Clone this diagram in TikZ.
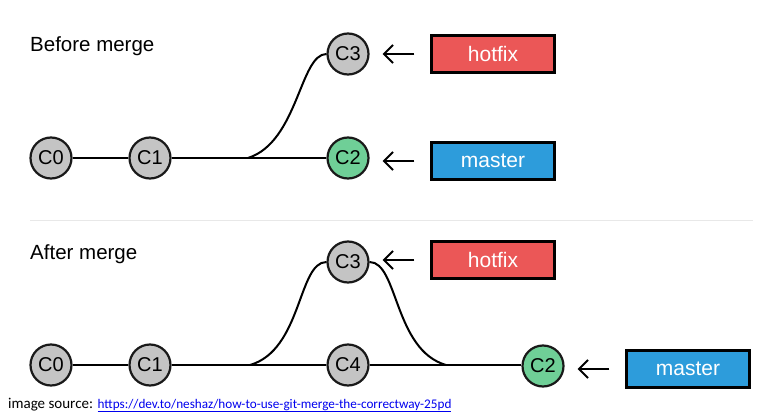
\documentclass[tikz,border=0pt]{standalone}
\usepackage{fontspec}
\setmainfont{Liberation Sans}
\newfontfamily\srcfont{Carlito}
\usetikzlibrary{arrows.meta}
\definecolor{commitgray}{HTML}{C4C4C4}
\definecolor{commitgreen}{HTML}{6FCF97}
\definecolor{hotfixred}{HTML}{EB5757}
\definecolor{masterblue}{HTML}{2D9CDB}
\definecolor{linkblue}{HTML}{0000EE}
\definecolor{rulegray}{HTML}{E8E8E8}

\begin{document}
\begin{tikzpicture}[x=1pt,y=-1pt,
  commit/.style={circle, draw=black!90, line width=2.2pt, fill=commitgray, minimum size=41pt, inner sep=0pt, font=\fontsize{20}{20}\selectfont},
  head/.style={commit, fill=commitgreen},
  branch/.style={draw=black, line width=2.4pt, minimum width=123pt, minimum height=37pt, inner sep=0pt, text=white, font=\fontsize{21}{21}\selectfont},
  title/.style={anchor=base west, inner sep=0pt, font=\fontsize{20.5}{20.5}\selectfont},
  edge/.style={line width=2pt},
  ptr/.style={line width=2pt, -{Straight Barb[length=9pt,width=18pt]}, shorten >=13pt, shorten <=16pt}]
\useasboundingbox (0,0) rectangle (784,420);
% before merge
\node[title] (before) at (30,52) {Before merge};
\node[commit] (c0) at (51,158) {C0};
\node[commit] (c1) at (150,158) {C1};
\node[head] (c2) at (348,158) {C2};
\node[commit] (c3) at (348,54) {C3};
\node[branch, fill=hotfixred] (hotfix) at (493,54) {hotfix};
\node[branch, fill=masterblue] (master) at (493,161) {master};
\coordinate (fork) at (248,158);
\draw[edge] (c0) -- (c1);
\draw[edge] (c1) -- (c2);
\draw[edge] (fork) .. controls (298,142) and (300,54) .. (c3.west);
\draw[ptr] (hotfix.west) -- (hotfix.west -| c3.east);
\draw[ptr] (master.west) -- (master.west -| c2.east);
% separator
\draw[rulegray, line width=1pt] (30,220) -- (753,220);
% after merge
\node[title] (after) at (30,259) {After merge};
\node[commit] (c0b) at (51,365) {C0};
\node[commit] (c1b) at (150,365) {C1};
\node[commit] (c3b) at (348,262) {C3};
\node[commit] (c4b) at (348,365) {C4};
\node[head] (c2b) at (543,366) {C2};
\node[branch, fill=hotfixred] (hotfixb) at (493,260) {hotfix};
\node[branch, fill=masterblue] (masterb) at (688,369) {master};
\coordinate (forkb) at (250,365);
\coordinate (joinb) at (446,365);
\draw[edge] (c0b) -- (c1b);
\draw[edge] (c1b) -- (c4b);
\draw[edge] (c4b) -- (c4b -| c2b.west);
\draw[edge] (forkb) .. controls (302,350) and (298,262) .. (c3b.west);
\draw[edge] (c3b.east) .. controls (398,262) and (394,350) .. (joinb);
\draw[ptr] (hotfixb.west) -- (hotfixb.west -| c3b.east);
\draw[ptr] (masterb.west) -- (masterb.west -| c2b.east);
% source
\node[anchor=base west, inner sep=0pt] (source) at (8,408) {\srcfont\fontsize{15}{15}\selectfont image source: {\fontsize{13.2}{13.2}\selectfont\color{linkblue}\underline{https://dev.to/neshaz/how-to-use-git-merge-the-correctway-25pd}}};
\end{tikzpicture}
\end{document}
